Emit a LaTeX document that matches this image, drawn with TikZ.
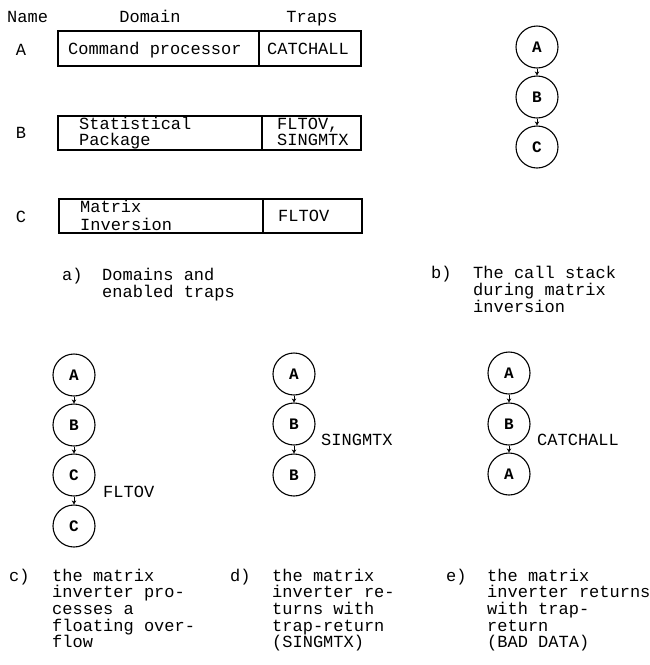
\documentclass[tikz,border=0pt]{standalone}
\usepackage{fontspec}
\setmonofont{Liberation Mono}
\usetikzlibrary{arrows.meta}
\begin{document}
\begin{tikzpicture}[x=1pt,y=-1pt,
  txt/.style={font=\ttfamily\fontsize{17}{17}\selectfont,inner sep=0pt,anchor=base west},
  frame/.style={draw=black,line width=1.1pt},
  stk/.style={circle,draw=black,line width=1.1pt,minimum size=42pt,inner sep=0pt,font=\ttfamily\bfseries\fontsize{16}{16}\selectfont},
  call/.style={line width=0.7pt,-{Stealth[length=4pt,width=4.5pt]}}]
\useasboundingbox (0,0) rectangle (650,665);
% header
\node[txt] (hname) at (7,22) {Name};
\node[txt,anchor=base] (hdom) at (150,22) {Domain};
\node[txt,anchor=base] (htrap) at (312,22) {Traps};
% row labels
\node[txt,anchor=base] (la) at (21,55) {A};
\node[txt,anchor=base] (lb) at (21,138) {B};
\node[txt,anchor=base] (lc) at (21,222) {C};
% boxes
\draw[frame] (58,31) rectangle (361,66);
\draw[frame] (259,31) -- (259,66);
\draw[frame] (58,116) rectangle (361,150);
\draw[frame] (262,116) -- (262,150);
\draw[frame] (59,199) rectangle (362,233);
\draw[frame] (263,199) -- (263,233);
\node[txt] (da) at (68,54) {Command processor};
\node[txt] (ta) at (267,54) {CATCHALL};
\node[txt] (db1) at (79,129) {Statistical};
\node[txt] (db2) at (79,145) {Package};
\node[txt] (tb1) at (277,129) {FLTOV,};
\node[txt] (tb2) at (277,145) {SINGMTX};
\node[txt] (dc1) at (80,212) {Matrix};
\node[txt] (dc2) at (80,230) {Inversion};
\node[txt] (tc) at (278,221) {FLTOV};
% captions a, b
\node[txt] (capa) at (62,280) {a)};
\foreach \t [count=\i] in {Domains and,enabled traps}
  \node[txt] (capa\i) at (102,{280+(\i-1)*17}) {\t};
\node[txt] (capb) at (431,278) {b)};
\foreach \t [count=\i] in {The call stack,during matrix,inversion}
  \node[txt] (capb\i) at (473,{278+(\i-1)*17}) {\t};
% b) stack
\node[stk] (bA) at (537,47) {A};
\node[stk] (bB) at (537,97) {B};
\node[stk] (bC) at (537,147) {C};
\draw[call] (bA) -- (bB);
\draw[call] (bB) -- (bC);
% c) stack
\node[stk] (cA) at (74,375) {A};
\node[stk] (cB) at (74,425) {B};
\node[stk] (cC) at (74,475) {C};
\node[stk] (cC2) at (74,526) {C};
\draw[call] (cA) -- (cB);
\draw[call] (cB) -- (cC);
\draw[call] (cC) -- (cC2);
\node[txt] (cl) at (103,497) {FLTOV};
% d) stack
\node[stk] (dA) at (294,374) {A};
\node[stk] (dB) at (294,424) {B};
\node[stk] (dB2) at (294,475) {B};
\draw[call] (dA) -- (dB);
\draw[call] (dB) -- (dB2);
\node[txt] (dl) at (321,445) {SINGMTX};
% e) stack
\node[stk] (eA) at (509,373) {A};
\node[stk] (eB) at (509,424) {B};
\node[stk] (eA2) at (509,474) {A};
\draw[call] (eA) -- (eB);
\draw[call] (eB) -- (eA2);
\node[txt] (el) at (537,445) {CATCHALL};
% captions c, d, e
\node[txt] (capc) at (9,581) {c)};
\foreach \t [count=\i] in {the matrix,inverter pro-,cesses a,floating over-,flow}
  \node[txt] (capc\i) at (52,{581+(\i-1)*16.7}) {\t};
\node[txt] (capd) at (230,581) {d)};
\foreach \t [count=\i] in {the matrix,inverter re-,turns with,trap-return,(SINGMTX)}
  \node[txt] (capd\i) at (272,{581+(\i-1)*16.7}) {\t};
\node[txt] (cape) at (446,581) {e)};
\foreach \t [count=\i] in {the matrix,inverter returns,with trap-,return,(BAD DATA)}
  \node[txt] (cape\i) at (487,{581+(\i-1)*16.7}) {\t};
\end{tikzpicture}
\end{document}
